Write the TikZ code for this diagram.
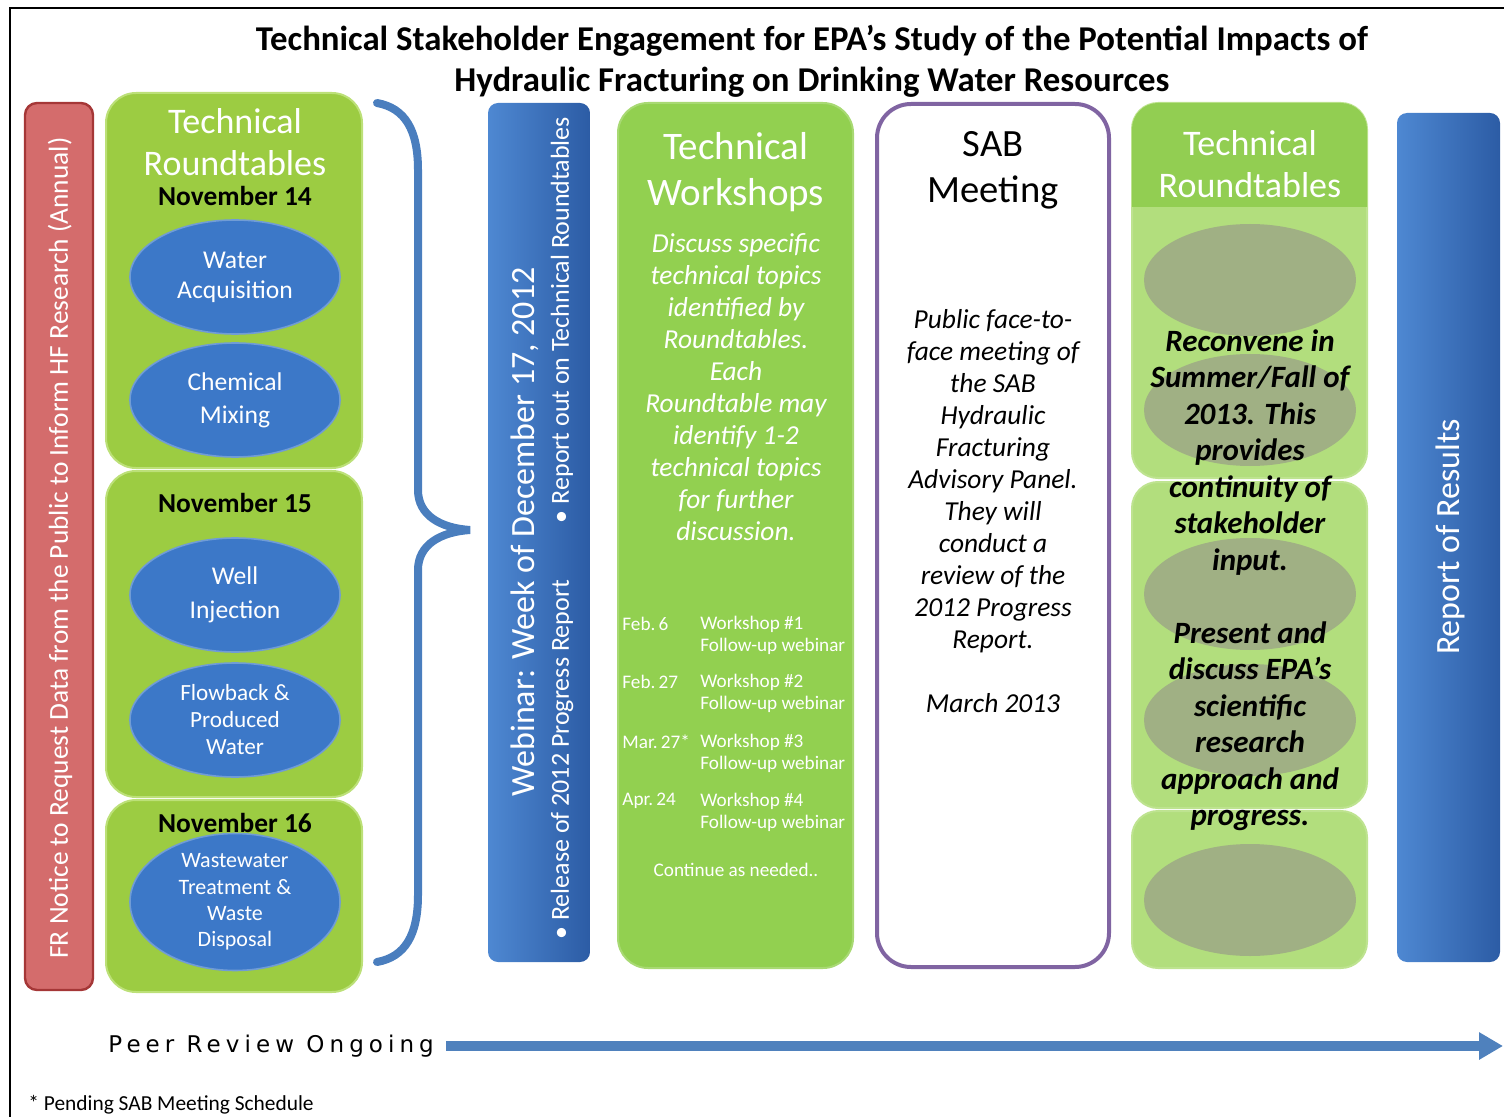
\documentclass[tikz,border=0pt]{standalone}
\usepackage{fontspec}
\setmainfont{Carlito}
\newfontfamily\widefont{DejaVu Sans}[LetterSpace=22]
\usetikzlibrary{arrows.meta,positioning,shapes.geometric}

\definecolor{rtgreen}{RGB}{156,204,66}
\definecolor{rtedge}{RGB}{188,224,120}
\definecolor{topicblue}{RGB}{60,120,200}
\definecolor{topicedge}{RGB}{112,156,214}
\definecolor{noticered}{RGB}{212,108,108}
\definecolor{noticeedge}{RGB}{165,55,55}
\definecolor{barblueL}{RGB}{78,136,210}
\definecolor{barblueR}{RGB}{44,92,165}
\definecolor{wsgreen}{RGB}{146,208,80}
\definecolor{sabpurple}{RGB}{128,100,162}
\definecolor{rthead}{RGB}{146,206,82}
\definecolor{rtbody}{RGB}{178,222,125}
\definecolor{rtgrey}{RGB}{160,176,132}
\definecolor{bracecol}{RGB}{74,126,190}
\definecolor{peerblue}{RGB}{79,129,189}

\begin{document}
\begin{tikzpicture}[x=0.5pt,y=-0.5pt]
\tikzset{
  noticebar/.style={draw=noticeedge,line width=1.2pt,fill=noticered,rounded corners=6pt,minimum width=34pt,minimum height=443.5pt,inner sep=0pt},
  daybox/.style={draw=rtedge,line width=1pt,fill=rtgreen,rounded corners=15pt,minimum width=128pt,inner sep=0pt},
  topic/.style={ellipse,draw=topicedge,line width=0.8pt,fill=topicblue,minimum width=105pt,minimum height=57pt,inner sep=0pt,align=center,text=white},
  bluebar/.style={rounded corners=5pt,left color=barblueL,right color=barblueR,minimum width=51pt,inner sep=0pt},
  wsbox/.style={fill=wsgreen,draw=wsgreen!80!white,line width=1pt,rounded corners=15pt,minimum width=117.5pt,minimum height=432.5pt,inner sep=0pt},
  sabbox/.style={fill=white,draw=sabpurple,line width=2pt,rounded corners=17pt,minimum width=116pt,minimum height=431.5pt,inner sep=0pt},
  rtbox/.style={fill=rtbody,draw=rtbody!85!white,line width=1pt,rounded corners=13pt,minimum width=117.5pt,inner sep=0pt},
  greyoval/.style={ellipse,fill=rtgrey,minimum width=106pt,minimum height=56pt,inner sep=0pt},
  headtext/.style={text=white,align=center,font=\fontsize{18}{21}\selectfont},
  daytext/.style={font=\bfseries\fontsize{13.7}{15}\selectfont},
  wstext/.style={text=white,font=\fontsize{9.6}{11}\selectfont,inner sep=0pt,anchor=west}
}
\useasboundingbox (0,0) rectangle (1504,1117);
% frame
\draw[line width=1.2pt] (10,1117) -- (10,8) -- (1504,8);
% title
\node[align=center,font=\bfseries\fontsize{17.4}{20.5}\selectfont] (title) at (812,61)
  {Technical Stakeholder Engagement for EPA’s Study of the Potential Impacts of\\Hydraulic Fracturing on Drinking Water Resources};

% FR notice
\node[noticebar] (notice) at (59,546.5) {};
\node[rotate=90,text=white,font=\fontsize{13.7}{15}\selectfont] (noticetxt) at (60,548)
  {FR Notice to Request Data from the Public to Inform HF Research (Annual)};

% roundtables, November
\node[daybox,minimum height=187.5pt] (nov14) at (234,280.5) {};
\node[daybox,minimum height=163pt] (nov15) at (234,634) {};
\node[daybox,minimum height=96pt] (nov16) at (234,896) {};
\node[headtext] (rthead) at (235,142) {Technical\\Roundtables};
\node[daytext] (d14) at (235,196) {November 14};
\node[daytext] (d15) at (235,503) {November 15};
\node[daytext] (d16) at (235,823) {November 16};
\node[topic,font=\fontsize{12.8}{15}\selectfont] (acq) at (235,277) {Water\\Acquisition};
\node[topic,font=\fontsize{12.8}{16.5}\selectfont] (mix) at (235,400) {Chemical\\Mixing};
\node[topic,font=\fontsize{12.8}{17}\selectfont] (inj) at (235,595) {Well\\Injection};
\node[topic,font=\fontsize{11.6}{13.5}\selectfont] (flow) at (235,720) {Flowback \&\\Produced\\Water};
\node[topic,font=\fontsize{11}{13.2}\selectfont] (waste) at (235,902) {Wastewater\\Treatment \&\\Waste\\Disposal};

% brace
\draw[bracecol,line width=4pt,line cap=round]
  (377,103) .. controls (405,108) and (418,130) .. (418,170) -- (418,490)
  .. controls (418,515) and (440,528) .. (470,530)
  .. controls (440,532) and (418,545) .. (418,570) -- (418,895)
  .. controls (418,935) and (405,957) .. (377,962);

% webinar
\node[bluebar,minimum height=429.5pt] (webinar) at (539,532.5) {};
\node[rotate=90,text=white,font=\fontsize{17}{18}\selectfont] (webtxt) at (525,532) {Webinar: Week of December 17, 2012};
\node[rotate=90,text=white,font=\fontsize{13}{14}\selectfont] (release) at (562,760) {\textbullet\ Release of 2012 Progress Report};
\node[rotate=90,text=white,font=\fontsize{13}{14}\selectfont] (reportout) at (562,320) {\textbullet\ Report out on Technical Roundtables};

% workshops
\node[wsbox] (ws) at (735.5,535.5) {};
\node[headtext,font=\fontsize{19.5}{23}\selectfont] (wshead) at (736,172) {Technical\\Workshops};
\node[text=white,align=center,font=\itshape\fontsize{13.7}{16}\selectfont] (wsnote) at (736,387.5)
  {Discuss specific\\technical topics\\identified by\\Roundtables.\\Each\\Roundtable may\\identify 1-2\\technical topics\\for further\\discussion.};
\foreach \d/\n/\y in {Feb.\,6/1/624,Feb.\,27/2/682,Mar.\,27*/3/742,Apr.\,24/4/801}{
  \node[wstext] (wsdate\n) at (622,\y) {\d};
  \node[wstext] (wsname\n) at (700,\y) {Workshop \#\n};
  \node[wstext] (wsfollow\n) at (700,\y+22) {Follow-up webinar};
}
\node[text=white,font=\fontsize{9.6}{11}\selectfont] (wsmore) at (736,870) {Continue as needed..};

% SAB
\node[sabbox] (sab) at (993,535.5) {};
\node[align=center,font=\fontsize{19.3}{23}\selectfont] (sabhead) at (993,170) {SAB\\Meeting};
\node[align=center,font=\itshape\fontsize{13.7}{16}\selectfont] (sabnote) at (993,511.5)
  {Public face-to-\\face meeting of\\the SAB\\Hydraulic\\Fracturing\\Advisory Panel.\\They will\\conduct a\\review of the\\2012 Progress\\Report.\\[16pt]March 2013};

% roundtables, reconvene
\node[rtbox,minimum height=187.5pt] (rt1) at (1249.5,290.5) {};
\node[rtbox,minimum height=163pt] (rt2) at (1249.5,645) {};
\node[rtbox,minimum height=78.5pt] (rt3) at (1249.5,889.5) {};
\fill[rthead] (1132,207) {[rounded corners=13pt] -- (1132,103) -- (1367,103)} -- (1367,207) -- cycle;
\node[headtext] (rt1head) at (1250,164) {Technical\\Roundtables};
\foreach \y [count=\i] in {280,410,594,720,900}
  \node[greyoval] (grey\i) at (1250,\y) {};
\node[align=center,font=\bfseries\itshape\fontsize{15.5}{18.25}\selectfont] (rtnote) at (1250,580)
  {Reconvene in\\Summer/Fall of\\2013. This\\provides\\continuity of\\stakeholder\\input.\\[18.25pt]Present and\\discuss EPA’s\\scientific\\research\\approach and\\progress.};

% report
\node[bluebar,minimum width=51.5pt,minimum height=424.5pt] (report) at (1448.5,537.5) {};
\node[rotate=90,text=white,font=\fontsize{17}{18}\selectfont] (reporttxt) at (1450,537) {Report of Results};

% peer review
\node[anchor=west,inner sep=0pt,font=\widefont\fontsize{11.5}{13}\selectfont] (peer) at (108,1046) {Peer Review Ongoing};
\coordinate (peerend) at (1503,1046);
\draw[peerblue,line width=5pt,-{Triangle[length=12pt,width=13pt]},shorten <=6pt] (peer.east) -- (peerend);

% footnote
\node[anchor=west,inner sep=0pt,font=\fontsize{10.7}{12}\selectfont] (pending) at (28,1105) {* Pending SAB Meeting Schedule};
\end{tikzpicture}
\end{document}
